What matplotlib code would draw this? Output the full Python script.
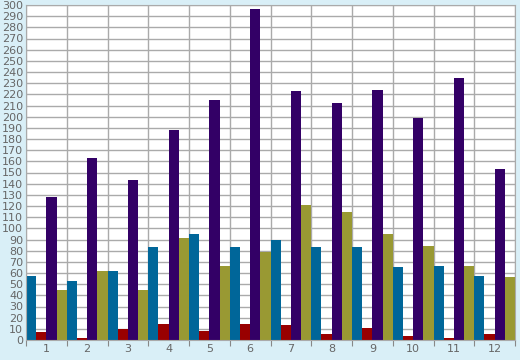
import numpy as np
import matplotlib.pyplot as plt

months = ["1", "2", "3", "4", "5", "6", "7", "8", "9", "10", "11", "12"]
teal = [57, 53, 62, 83, 95, 83, 90, 83, 83, 65, 66, 57]
red = [7, 2, 10, 14, 8, 14, 13, 5, 11, 4, 2, 5]
purple = [128, 163, 143, 188, 215, 296, 223, 212, 224, 199, 235, 153]
olive = [45, 62, 45, 91, 66, 79, 121, 115, 95, 84, 66, 56]

series = [teal, red, purple, olive]
colors = ["#006699", "#990000", "#330066", "#999933"]

fig = plt.figure(figsize=(5.2, 3.6), dpi=100, facecolor="#d9eff7")
ax = fig.add_axes([26/520, 1 - 340/360, 489/520, 335/360])
ax.set_facecolor("white")

x = np.arange(len(months))
w = 0.25
for j, (vals, c) in enumerate(zip(series, colors)):
    ax.bar(x + j*w + w/2, vals, width=w, color=c, linewidth=0)

ax.set_xlim(0, 12)
ax.set_ylim(0, 300)
ax.set_yticks(np.arange(0, 301, 10))
ax.set_xticks(np.arange(0, 13))
ax.set_xticklabels([])
ax.set_xticks(x + 0.5, minor=True)
ax.set_xticklabels(months, minor=True)
ax.grid(True, which="major", color="#aaaaaa", lw=1)
ax.set_axisbelow(True)

ax.tick_params(axis="y", length=0, pad=2, labelsize=8, labelcolor="#666666")
ax.tick_params(axis="x", which="major", length=4, color="#888888")
ax.tick_params(axis="x", which="minor", length=0, pad=3, labelsize=8, labelcolor="#666666")
for s in ax.spines.values():
    s.set_color("#aaaaaa")

fig.savefig("out.png", dpi=100, facecolor=fig.get_facecolor())
